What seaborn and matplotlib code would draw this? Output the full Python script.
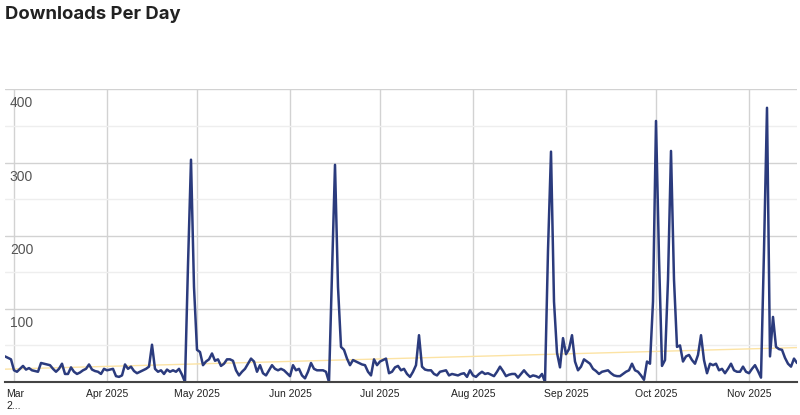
import numpy as np
import pandas as pd
import matplotlib
matplotlib.use("Agg")
import matplotlib.pyplot as plt
import matplotlib.transforms as mtransforms
import seaborn as sns

# ---------------- data ----------------
title = "Downloads Per Day"
start_date = "2025-02-26"

downloads_feb_apr = [35, 33, 31, 16, 14, 18, 22, 17, 19, 16,
                     15, 14, 26, 25, 24, 23, 18, 14, 18, 25,
                     11, 11, 20, 14, 11, 13, 16, 18, 24, 17,
                     15, 14, 11, 18, 16, 17, 18, 8, 7, 9,
                     24, 18, 21, 15, 12, 14, 16, 18, 21, 51,
                     18, 14, 16, 11]
downloads_apr_may = [17, 14, 16, 14, 18, 10, 0, 160, 304, 130, 44]
downloads_may_jun = [41, 23, 28, 31, 39, 29, 31, 22, 25, 31,
                     31, 29, 16, 9, 14, 18, 25, 32, 28, 14,
                     23, 12, 9, 16, 23, 18, 16, 18, 16, 12,
                     8, 23, 16, 18, 9, 5, 14, 26, 18, 16,
                     16, 16]
downloads_jun_aug = [14, 0, 150, 297, 130, 48, 44, 32, 23, 30,
                     28, 26, 24, 23, 14, 9, 31, 23, 28, 30,
                     32, 12, 14, 20, 22, 16, 18, 11, 7, 14,
                     23, 64, 21, 17, 16, 16, 11, 9, 14, 15,
                     16, 9, 11, 10, 9, 11, 12, 7, 16, 9,
                     7, 11, 14]
downloads_aug_sep = [11, 12, 10, 8, 14, 21, 15, 8, 10, 11,
                     11, 6, 11, 16, 11, 7, 9, 8, 6, 11,
                     0, 180, 315, 110, 40, 20, 60, 38, 45, 64,
                     28, 16, 21, 31, 28, 25, 18, 15, 11, 14,
                     15, 16, 12, 9, 8, 8, 11, 14, 16, 25,
                     16, 14, 9, 3]
downloads_oct_nov = [28, 25, 110, 357, 170, 22, 30, 140, 316, 140,
                     48, 50, 28, 35, 37, 30, 25, 37, 64, 30,
                     12, 25, 23, 25, 16, 18, 12, 18, 25, 16,
                     14, 14, 21, 14, 12, 18, 23, 15, 6, 180,
                     375, 35, 89, 48, 45, 44, 33, 25, 21, 32,
                     26]

downloads = (downloads_feb_apr + downloads_apr_may + downloads_may_jun +
             downloads_jun_aug + downloads_aug_sep + downloads_oct_nov)

month_starts = pd.date_range("2025-03-01", "2025-11-01", freq="MS")
month_labels = ["Mar 2025", "Apr 2025", "May 2025", "Jun 2025", "Jul 2025",
                "Aug 2025", "Sep 2025", "Oct 2025", "Nov 2025"]
first_label_truncated = "Mar\n2..."
y_major = [100, 200, 300, 400]
y_minor = [50, 150, 250, 350]

dates = pd.date_range(start_date, periods=len(downloads), freq="D")
df = pd.DataFrame({"date": dates, "downloads": downloads})
idx = np.arange(len(downloads))
trend_coef = np.polyfit(idx, downloads, 1)
df["trend"] = np.polyval(trend_coef, idx)

# ---------------- style ----------------
sns.set_theme(style="white")
plt.rcParams["font.family"] = ["Liberation Sans", "DejaVu Sans"]

LINE = "#2b3b7d"
TREND = "#fce3a4"

fig = plt.figure(figsize=(8, 4.15), dpi=100)
ax = fig.add_axes([5 / 800, 1 - 382 / 415, 792 / 800, (382 - 89.5) / 415])

sns.lineplot(data=df, x="date", y="trend", ax=ax, color=TREND, linewidth=1.0, zorder=2)
sns.lineplot(data=df, x="date", y="downloads", ax=ax, color=LINE, linewidth=1.8, zorder=3)

ax.set_xlim(dates[0], dates[-1])
ax.set_ylim(0, 400)

ax.set_yticks(y_major)
ax.set_yticks(y_minor, minor=True)
ax.grid(which="major", axis="y", color="#d2d2d2", linewidth=1.0, zorder=0)
ax.grid(which="minor", axis="y", color="#eeeeee", linewidth=1.0, zorder=0)
ax.tick_params(axis="y", which="both", length=0, labelleft=False)

ax.set_xticks(month_starts)
ax.set_xticklabels([""] + month_labels[1:])
ax.grid(which="major", axis="x", color="#d2d2d2", linewidth=1.0, zorder=0)
ax.tick_params(axis="x", length=0, pad=5, labelsize=7.5, labelcolor="#222222")

for s in ["top", "right", "left"]:
    ax.spines[s].set_visible(False)
ax.spines["bottom"].set_color("#444444")
ax.spines["bottom"].set_linewidth(1.5)
ax.spines["bottom"].set_zorder(4)

ax.set_xlabel("")
ax.set_ylabel("")

# y labels inside plot, below their gridlines
ytrans = mtransforms.offset_copy(ax.get_yaxis_transform(), fig=fig, x=0, y=-5, units="points")
for v in y_major:
    ax.text(0.006, v, str(v), transform=ytrans, ha="left", va="top",
            fontsize=10, color="#555555")

# truncated first month label
xtrans = mtransforms.offset_copy(ax.transAxes, fig=fig, x=0, y=-5, units="points")
ax.text(0.002, 0, first_label_truncated, transform=xtrans, ha="left", va="top",
        fontsize=7.5, color="#222222", linespacing=1.25)

fig.text(5 / 800, 1 - 6 / 415, title, ha="left", va="top", fontsize=13.3,
         fontweight="bold", family=["Inter", "DejaVu Sans"], color="#222222")

fig.savefig("out.png", dpi=100)
